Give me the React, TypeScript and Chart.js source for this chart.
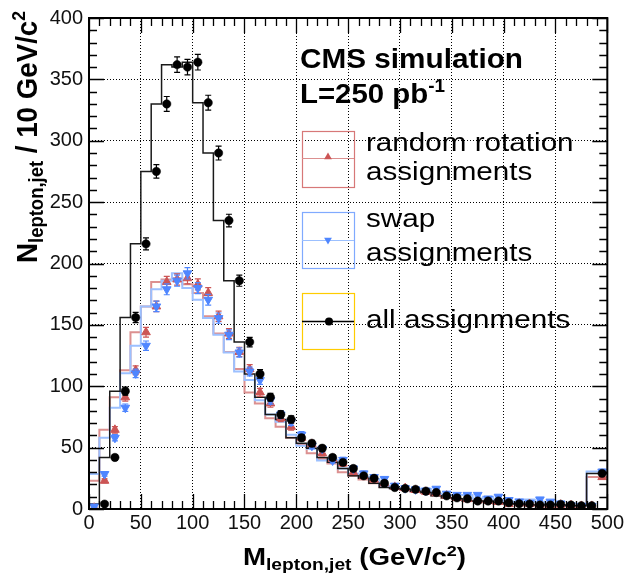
import { useEffect, useRef } from 'react';
import { Chart, registerables } from 'chart.js';

Chart.register(...registerables);

const FONT = '"Liberation Sans", Arial, Helvetica, sans-serif';

// bin centres of the 10 GeV/c^2 bins
const binCenters = [
  5, 15, 25, 35, 45, 55, 65, 75, 85, 95,
  105, 115, 125, 135, 145, 155, 165, 175, 185, 195,
  205, 215, 225, 235, 245, 255, 265, 275, 285, 295,
  305, 315, 325, 335, 345, 355, 365, 375, 385, 395,
  405, 415, 425, 435, 445, 455, 465, 475, 485, 495,
];
const BIN_HALF = 5;

const allAssignments = [
  0, 4, 42, 96, 156, 216, 275, 330, 362, 360,
  364, 331, 290, 235, 186, 136, 110, 91, 77, 73,
  58, 53.5, 49.5, 42, 38, 33, 27, 25, 21, 17.5,
  16.7, 16, 14.5, 13.4, 10.7, 9.1, 8.3, 6.5, 6.5, 6.5,
  5.1, 4.3, 4, 3.2, 3.2, 3.8, 3.2, 2.6, 2.6, 29,
];
const randomRotation = [
  1, 23, 64.5, 91, 113, 144, 165, 185, 187, 188,
  183, 176, 157, 143, 128, 114, 95, 86, 74, 67,
  58, 53, 45.5, 41, 37, 30, 27, 24, 21, 18,
  17, 15.5, 14, 13, 11, 9, 8, 7, 6.5, 6,
  4, 4.5, 4, 3.5, 3, 3.5, 3, 2.5, 2.5, 26,
];
const swapAssignments = [
  2, 28.5, 58, 82.5, 110.5, 133, 165, 179, 186, 192,
  180, 170.5, 155.5, 142, 127.5, 112, 105, 88.5, 77, 71,
  60.5, 51.5, 49, 39.5, 40, 33, 29, 26, 24.5, 19,
  17, 16, 15, 16.5, 12.5, 11.5, 11.5, 11.5, 8.5, 10,
  7.3, 6.2, 5, 7.8, 6, 4.5, 3, 2.6, 2.6, 30.5,
];
const xTicks = [0, 50, 100, 150, 200, 250, 300, 350, 400, 450, 500];
const yTicks = [0, 50, 100, 150, 200, 250, 300, 350, 400];
const ERR_SCALE = 1 / 3; // MC weight applied to the Poisson error

const RED = '#cc5555';
const RED_LINE = '#dc9090';
const BLUE = '#4f86ff';
const BLUE_LINE = '#9cc0ff';

function stepData(vals: number[]) {
  const pts = vals.map((v, i) => ({ x: binCenters[i] - BIN_HALF, y: v }));
  pts.push({ x: binCenters[vals.length - 1] + BIN_HALF, y: vals[vals.length - 1] });
  return pts;
}
function pointData(vals: number[]) {
  return vals.map((v, i) => ({ x: binCenters[i], y: v }));
}

type Part = { t: string; size: number; dy: number };

function drawRich(
  ctx: CanvasRenderingContext2D,
  parts: Part[],
  x: number,
  y: number,
  opts: { bold?: boolean; scale?: number; target?: number; angle?: number; color?: string }
) {
  const weight = opts.bold ? 'bold ' : '';
  ctx.save();
  ctx.translate(x, y);
  if (opts.angle) ctx.rotate(opts.angle);
  let w = 0;
  const widths: number[] = [];
  for (const p of parts) {
    ctx.font = `${weight}${p.size}px ${FONT}`;
    const m = ctx.measureText(p.t).width;
    widths.push(m);
    w += m;
  }
  const s = opts.target ? opts.target / w : opts.scale ?? 1;
  ctx.scale(s, 1);
  ctx.fillStyle = opts.color ?? '#000';
  ctx.textBaseline = 'alphabetic';
  ctx.textAlign = 'left';
  let cx = 0;
  parts.forEach((p, i) => {
    ctx.font = `${weight}${p.size}px ${FONT}`;
    ctx.fillText(p.t, cx, p.dy);
    cx += widths[i];
  });
  ctx.restore();
}

const errorBarPlugin = {
  id: 'errbars',
  beforeDatasetDraw(chart: any, args: any) {
    const ds: any = chart.data.datasets[args.index];
    if (!ds.errColor) return;
    const ctx: CanvasRenderingContext2D = chart.ctx;
    const ys = chart.scales.y;
    const a = chart.chartArea;
    ctx.save();
    ctx.beginPath();
    ctx.rect(a.left, a.top, a.right - a.left, a.bottom - a.top);
    ctx.clip();
    ctx.strokeStyle = ds.errColor;
    ctx.lineWidth = 1.2;
    args.meta.data.forEach((el: any, i: number) => {
      const v = ds.data[i].y;
      if (!(v > 0)) return;
      const e = Math.sqrt(v) * ERR_SCALE;
      const x = el.x;
      const y1 = ys.getPixelForValue(v + e);
      const y2 = ys.getPixelForValue(Math.max(0, v - e));
      ctx.beginPath();
      ctx.moveTo(x, y1);
      ctx.lineTo(x, y2);
      ctx.moveTo(x - 3, y1);
      ctx.lineTo(x + 3, y1);
      ctx.moveTo(x - 3, y2);
      ctx.lineTo(x + 3, y2);
      ctx.stroke();
    });
    ctx.restore();
  },
};

function triangle(ctx: CanvasRenderingContext2D, x: number, y: number, r: number, down: boolean) {
  const d = down ? -1 : 1;
  ctx.beginPath();
  ctx.moveTo(x, y - d * r);
  ctx.lineTo(x + r * 0.866, y + d * r * 0.5);
  ctx.lineTo(x - r * 0.866, y + d * r * 0.5);
  ctx.closePath();
  ctx.fill();
}

const framePlugin = {
  id: 'frame',
  afterDraw(chart: any) {
    const ctx: CanvasRenderingContext2D = chart.ctx;
    const a = chart.chartArea;
    const xs = chart.scales.x;
    const ys = chart.scales.y;
    ctx.save();
    // inward ticks
    ctx.strokeStyle = '#000';
    ctx.lineWidth = 1.3;
    ctx.beginPath();
    for (let v = xs.min; v <= xs.max + 1e-6; v += 10) {
      const major = xTicks.includes(Math.round(v));
      const len = major ? 15 : 8;
      const px = Math.round(xs.getPixelForValue(v)) + 0.5;
      ctx.moveTo(px, a.bottom);
      ctx.lineTo(px, a.bottom - len);
      ctx.moveTo(px, a.top);
      ctx.lineTo(px, a.top + len);
    }
    for (let v = ys.min; v <= ys.max + 1e-6; v += 10) {
      const major = yTicks.includes(Math.round(v));
      const len = major ? 15 : 8;
      const py = Math.round(ys.getPixelForValue(v)) + 0.5;
      ctx.moveTo(a.left, py);
      ctx.lineTo(a.left + len, py);
      ctx.moveTo(a.right, py);
      ctx.lineTo(a.right - len, py);
    }
    ctx.stroke();
    // frame
    ctx.lineWidth = 2;
    ctx.strokeRect(a.left, a.top, a.right - a.left, a.bottom - a.top);

    // axis titles
    drawRich(
      ctx,
      [
        { t: 'M', size: 23, dy: 0 },
        { t: 'lepton,jet', size: 16, dy: 5 },
        { t: ' (GeV/c', size: 23, dy: 0 },
        { t: '2', size: 15, dy: -9 },
        { t: ')', size: 23, dy: 0 },
      ],
      243,
      565,
      { bold: true, target: 223 }
    );
    drawRich(
      ctx,
      [
        { t: 'N', size: 30, dy: 0 },
        { t: 'lepton,jet', size: 20, dy: 6 },
        { t: ' / 10 GeV/c', size: 30, dy: 0 },
        { t: '2', size: 19, dy: -12 },
      ],
      37,
      263,
      { bold: true, target: 252, angle: -Math.PI / 2 }
    );

    // annotation
    drawRich(ctx, [{ t: 'CMS simulation', size: 28, dy: 0 }], 300, 68, { bold: true, target: 223 });
    drawRich(
      ctx,
      [
        { t: 'L=250 pb', size: 28, dy: 0 },
        { t: '-1', size: 18, dy: -11 },
      ],
      300,
      103,
      { bold: true, target: 145 }
    );

    // legend
    const bx = 302, bw = 52, bh = 56;
    const boxes = [
      { top: 131, color: '#d77878' },
      { top: 212, color: '#80aaff' },
      { top: 293, color: '#ffcc00' },
    ];
    ctx.lineWidth = 1.2;
    boxes.forEach((b) => {
      ctx.strokeStyle = b.color;
      ctx.strokeRect(bx + 0.5, b.top + 0.5, bw, bh);
    });
    const mx = bx + bw / 2;
    // red entry
    ctx.strokeStyle = RED_LINE;
    ctx.beginPath();
    ctx.moveTo(bx, 158.5);
    ctx.lineTo(bx + bw, 158.5);
    ctx.stroke();
    ctx.fillStyle = RED;
    triangle(ctx, mx, 157, 4.5, false);
    // blue entry
    ctx.strokeStyle = BLUE_LINE;
    ctx.beginPath();
    ctx.moveTo(bx, 240.5);
    ctx.lineTo(bx + bw, 240.5);
    ctx.stroke();
    ctx.fillStyle = BLUE;
    triangle(ctx, mx, 240, 4.5, true);
    // black entry
    ctx.strokeStyle = '#000';
    ctx.lineWidth = 1.3;
    ctx.beginPath();
    ctx.moveTo(bx, 321.5);
    ctx.lineTo(bx + bw, 321.5);
    ctx.stroke();
    ctx.fillStyle = '#000';
    ctx.beginPath();
    ctx.arc(mx + 1, 321.5, 4, 0, Math.PI * 2);
    ctx.fill();

    const ls = 1.14;
    const lt = (t: string, y: number) =>
      drawRich(ctx, [{ t, size: 26, dy: 0 }], 366, y, { scale: ls });
    lt('random rotation', 151);
    lt('assignments', 180);
    lt('swap', 226.5);
    lt('assignments', 260.5);
    lt('all assignments', 328);
    ctx.restore();
  },
};

export default function App() {
  const ref = useRef<HTMLCanvasElement | null>(null);

  useEffect(() => {
    if (!ref.current) return;
    const tickFont = { family: FONT, size: 20 };
    const chart = new Chart(ref.current, {
      type: 'line',
      data: {
        datasets: [
          {
            label: 'random rotation assignments (step)',
            data: stepData(randomRotation),
            stepped: 'after',
            borderColor: RED_LINE,
            borderWidth: 2,
            pointRadius: 0,
            fill: false,
            order: 6,
          },
          {
            label: 'swap assignments (step)',
            data: stepData(swapAssignments),
            stepped: 'after',
            borderColor: BLUE_LINE,
            borderWidth: 2,
            pointRadius: 0,
            fill: false,
            order: 5,
          },
          {
            label: 'all assignments (step)',
            data: stepData(allAssignments),
            stepped: 'after',
            borderColor: '#1a1a1a',
            borderWidth: 1.5,
            pointRadius: 0,
            fill: false,
            order: 4,
          },
          {
            label: 'random rotation assignments',
            data: pointData(randomRotation),
            showLine: false,
            pointStyle: 'triangle',
            pointRadius: 5,
            pointBackgroundColor: RED,
            pointBorderColor: RED,
            pointBorderWidth: 1,
            errColor: RED,
            order: 3,
          } as any,
          {
            label: 'swap assignments',
            data: pointData(swapAssignments),
            showLine: false,
            pointStyle: 'triangle',
            pointRotation: 180,
            pointRadius: 5,
            pointBackgroundColor: BLUE,
            pointBorderColor: BLUE,
            pointBorderWidth: 1,
            errColor: BLUE,
            order: 2,
          } as any,
          {
            label: 'all assignments',
            data: pointData(allAssignments),
            showLine: false,
            pointStyle: 'circle',
            pointRadius: (c: any) => (c.raw && c.raw.y > 0 ? 4.2 : 0),
            pointBackgroundColor: '#000',
            pointBorderColor: '#000',
            pointBorderWidth: 0.5,
            errColor: '#000',
            order: 1,
          } as any,
        ],
      },
      options: {
        animation: false,
        responsive: false,
        events: [],
        layout: { padding: { top: 13, right: 17, left: 0, bottom: 0 } },
        plugins: { legend: { display: false }, tooltip: { enabled: false } },
        scales: {
          x: {
            type: 'linear',
            min: 0,
            max: 500,
            afterBuildTicks: (s: any) => {
              s.ticks = xTicks.map((v) => ({ value: v }));
            },
            ticks: { font: tickFont, color: '#111', padding: 2, maxRotation: 0, autoSkip: false },
            grid: { color: '#000', lineWidth: 1, drawTicks: false },
            border: { display: false, dash: [1, 2] },
            afterFit: (s: any) => {
              s.height = 73;
            },
          },
          y: {
            type: 'linear',
            min: 0,
            max: 400,
            afterBuildTicks: (s: any) => {
              s.ticks = yTicks.map((v) => ({ value: v }));
            },
            ticks: { font: tickFont, color: '#111', padding: 6, autoSkip: false },
            grid: { color: '#000', lineWidth: 1, drawTicks: false },
            border: { display: false, dash: [1, 2] },
            afterFit: (s: any) => {
              s.width = 89;
            },
          },
        },
      } as any,
      plugins: [errorBarPlugin, framePlugin],
    });
    return () => chart.destroy();
  }, []);

  return (
    <div style={{ position: 'fixed', left: 0, top: 0, width: 626, height: 582, background: '#fff' }}>
      <canvas ref={ref} width={626} height={582} style={{ display: 'block' }} />
    </div>
  );
}
